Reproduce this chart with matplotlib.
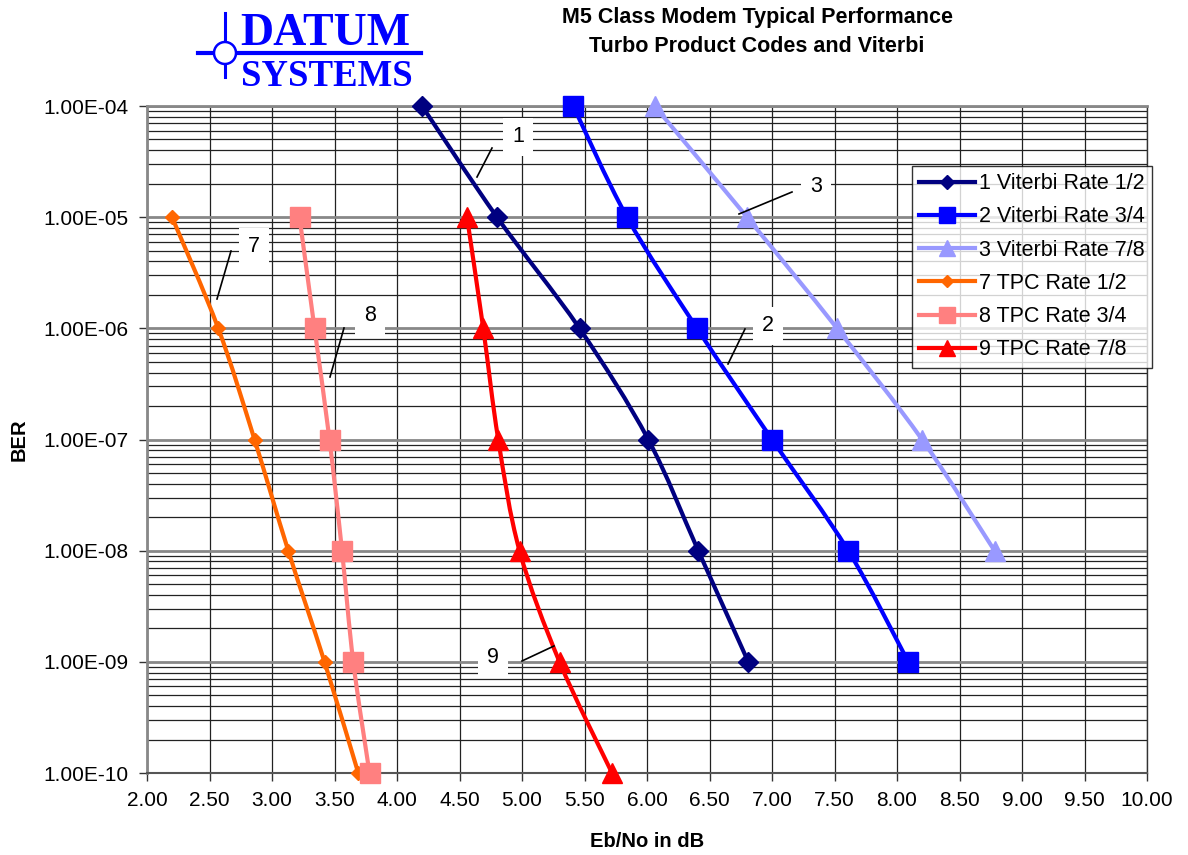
import numpy as np
import matplotlib
matplotlib.use("Agg")
import matplotlib.pyplot as plt
from matplotlib.path import Path
from matplotlib.patches import PathPatch, Circle
from matplotlib.lines import Line2D
from matplotlib.ticker import LogLocator, FuncFormatter, NullFormatter
from matplotlib.transforms import IdentityTransform

plt.rcParams['font.family'] = ['Liberation Sans', 'DejaVu Sans']

# ---------------- data ----------------
labels = ["1 Viterbi Rate 1/2", "2 Viterbi Rate 3/4", "3 Viterbi Rate 7/8",
          "7 TPC Rate 1/2", "8 TPC Rate 3/4", "9 TPC Rate 7/8"]
short_ids = ["1", "2", "3", "7", "8", "9"]

v12_x = [4.20, 4.80, 5.46, 6.01, 6.41, 6.81]
v12_y = [1e-4, 1e-5, 1e-6, 1e-7, 1e-8, 1e-9]
v34_x = [5.41, 5.84, 6.40, 7.00, 7.61, 8.09]
v34_y = [1e-4, 1e-5, 1e-6, 1e-7, 1e-8, 1e-9]
v78_x = [6.06, 6.80, 7.52, 8.20, 8.78]
v78_y = [1e-4, 1e-5, 1e-6, 1e-7, 1e-8]
t12_x = [2.20, 2.57, 2.86, 3.13, 3.42, 3.69]
t12_y = [1e-5, 1e-6, 1e-7, 1e-8, 1e-9, 1e-10]
t34_x = [3.22, 3.34, 3.46, 3.56, 3.65, 3.78]
t34_y = [1e-5, 1e-6, 1e-7, 1e-8, 1e-9, 1e-10]
t78_x = [4.56, 4.69, 4.81, 4.98, 5.30, 5.72]
t78_y = [1e-5, 1e-6, 1e-7, 1e-8, 1e-9, 1e-10]

xticks = [2.0 + 0.5 * i for i in range(17)]
yticks = [1e-4, 1e-5, 1e-6, 1e-7, 1e-8, 1e-9, 1e-10]

# ---------------- styles ----------------
series = [(v12_x, v12_y), (v34_x, v34_y), (v78_x, v78_y),
          (t12_x, t12_y), (t34_x, t34_y), (t78_x, t78_y)]
colors = ['#000080', '#0000FF', '#9999FF', '#FF6600', '#FF8080', '#FF0000']
markers = ['D', 's', '^', 'D', 's', '^']
msizes = [10, 15, 15, 7.5, 15, 15]

W, H = 1188, 855
fig = plt.figure(figsize=(W / 100, H / 100), dpi=100)
ax = fig.add_axes([147 / W, 1 - 773 / H, 1000 / W, 667 / H])
ax.set_yscale('log')
ax.set_xlim(2.0, 10.0)
ax.set_ylim(1e-10, 1e-4)


def smooth_path(xs, ys):
    """Excel-like smoothed line: cubic Bezier through points (in x, log y)."""
    lx = np.array(xs, float)
    ly = np.log10(np.array(ys, float))
    n = len(lx)
    verts = [(lx[0], ly[0])]
    codes = [Path.MOVETO]
    for i in range(n - 1):
        p0 = np.array([lx[max(i - 1, 0)], ly[max(i - 1, 0)]])
        p1 = np.array([lx[i], ly[i]])
        p2 = np.array([lx[i + 1], ly[i + 1]])
        p3 = np.array([lx[min(i + 2, n - 1)], ly[min(i + 2, n - 1)]])
        c1 = p1 + (p2 - p0) / 6.0
        c2 = p2 - (p3 - p1) / 6.0
        verts += [tuple(c1), tuple(c2), tuple(p2)]
        codes += [Path.CURVE4] * 3
    v = np.array(verts)
    v[:, 1] = 10 ** v[:, 1]
    return Path(v, codes)


handles = []
for (xs, ys), c, m, ms, lab in zip(series, colors, markers, msizes, labels):
    patch = PathPatch(smooth_path(xs, ys), facecolor='none', edgecolor=c,
                      lw=3.0, zorder=3, capstyle='round', joinstyle='round')
    ax.add_patch(patch)
    ax.plot(xs, ys, ls='none', marker=m, ms=ms, color=c, mec=c, zorder=4,
            clip_on=False)
    handles.append(Line2D([], [], color=c, lw=3.0, marker=m, ms=ms * 0.75,
                          mec=c, label=lab))

# grid
ax.set_xticks(xticks)
ax.xaxis.set_major_formatter(FuncFormatter(lambda v, p: f"{v:.2f}"))
ax.set_yticks(yticks)
ax.yaxis.set_major_formatter(FuncFormatter(lambda v, p: f"{v:.2E}"))
ax.yaxis.set_minor_locator(LogLocator(base=10, subs=np.arange(2, 10)))
ax.yaxis.set_minor_formatter(NullFormatter())
ax.grid(True, which='major', axis='x', color='#222222', lw=0.9, zorder=1)
ax.grid(True, which='major', axis='y', color='#888888', lw=2.0, zorder=1)
ax.grid(True, which='minor', axis='y', color='#222222', lw=0.9, zorder=1)
ax.tick_params(axis='both', which='major', direction='out', length=6,
               width=1, color='#333333', labelsize=15)
ax.tick_params(axis='x', pad=7)
ax.tick_params(axis='y', pad=7)
ax.tick_params(axis='y', which='minor', length=0)
for s in ['left', 'top']:
    ax.spines[s].set_color('#888888')
    ax.spines[s].set_linewidth(2.0)
ax.spines['bottom'].set_color('#555555')
ax.spines['bottom'].set_linewidth(1.5)
ax.spines['right'].set_color('#333333')
ax.spines['right'].set_linewidth(1.0)

ax.set_xlabel("Eb/No in dB", fontsize=14.5, fontweight='bold', labelpad=16)
ax.set_ylabel("BER", fontsize=14.5, fontweight='bold', labelpad=11)

# legend
leg = fig.legend(handles=handles, loc='upper right',
                 bbox_to_anchor=(1152 / W, 1 - 166 / H), fontsize=15.5,
                 frameon=True, fancybox=False, shadow=False,
                 handlelength=2.6, handletextpad=0.2, labelspacing=0.57,
                 borderpad=0.33, borderaxespad=0)
leg.get_frame().set_edgecolor('black')
leg.get_frame().set_linewidth(1.0)


# series callout labels (layout positions in pixels)
def px2data(px, py):
    return 2 + (px - 147) / 125.0, 10 ** (-4 - (py - 106) / 111.17)


callouts = [  # (line start px, line end px, text px)
    ((477, 177), (492, 148), (518, 137)),
    ((728, 364), (745, 329), (768, 326)),
    ((739, 214), (792, 192), (816, 187)),
    ((217, 299), (231, 251), (254, 247)),
    ((330, 377), (344, 328), (370, 316)),
    ((522, 661), (554, 646), (493, 658)),
]
for sid, (a, b, t) in zip(short_ids, callouts):
    ax.plot(*zip(px2data(*a), px2data(*b)), color='black', lw=1.2, zorder=5)
    tx, ty = px2data(*t)
    ax.text(tx, ty, sid, fontsize=15.5, ha='center', va='center', zorder=5,
            bbox=dict(boxstyle='square,pad=0.4', fc='white', ec='none'))

# title
fig.text(757 / W, 1 - 18 / H, "M5 Class Modem Typical Performance",
         fontsize=15.5, fontweight='bold', ha='center', va='center')
fig.text(757 / W, 1 - 46 / H, "Turbo Product Codes and Viterbi",
         fontsize=15.5, fontweight='bold', ha='center', va='center')

# logo
blue = '#0000FF'
fig.text(240 / W, 1 - 34 / H, "DATUM", fontfamily='Liberation Serif',
         fontweight='bold', fontsize=33, color=blue, ha='left', va='center')
fig.text(241 / W, 1 - 76 / H, "SYSTEMS", fontfamily='Liberation Serif',
         fontweight='bold', fontsize=26.5, color=blue, ha='left', va='center')
fig.add_artist(Line2D([198, 421], [H - 53, H - 53], transform=IdentityTransform(),
                      color=blue, lw=3))
fig.add_artist(Line2D([225, 225], [H - 13, H - 77], transform=IdentityTransform(),
                      color=blue, lw=2.2))
fig.add_artist(Circle((225, H - 53), 11, transform=IdentityTransform(),
                      facecolor='white', edgecolor=blue, lw=1.8, zorder=5))

fig.savefig("out.png", dpi=100)
